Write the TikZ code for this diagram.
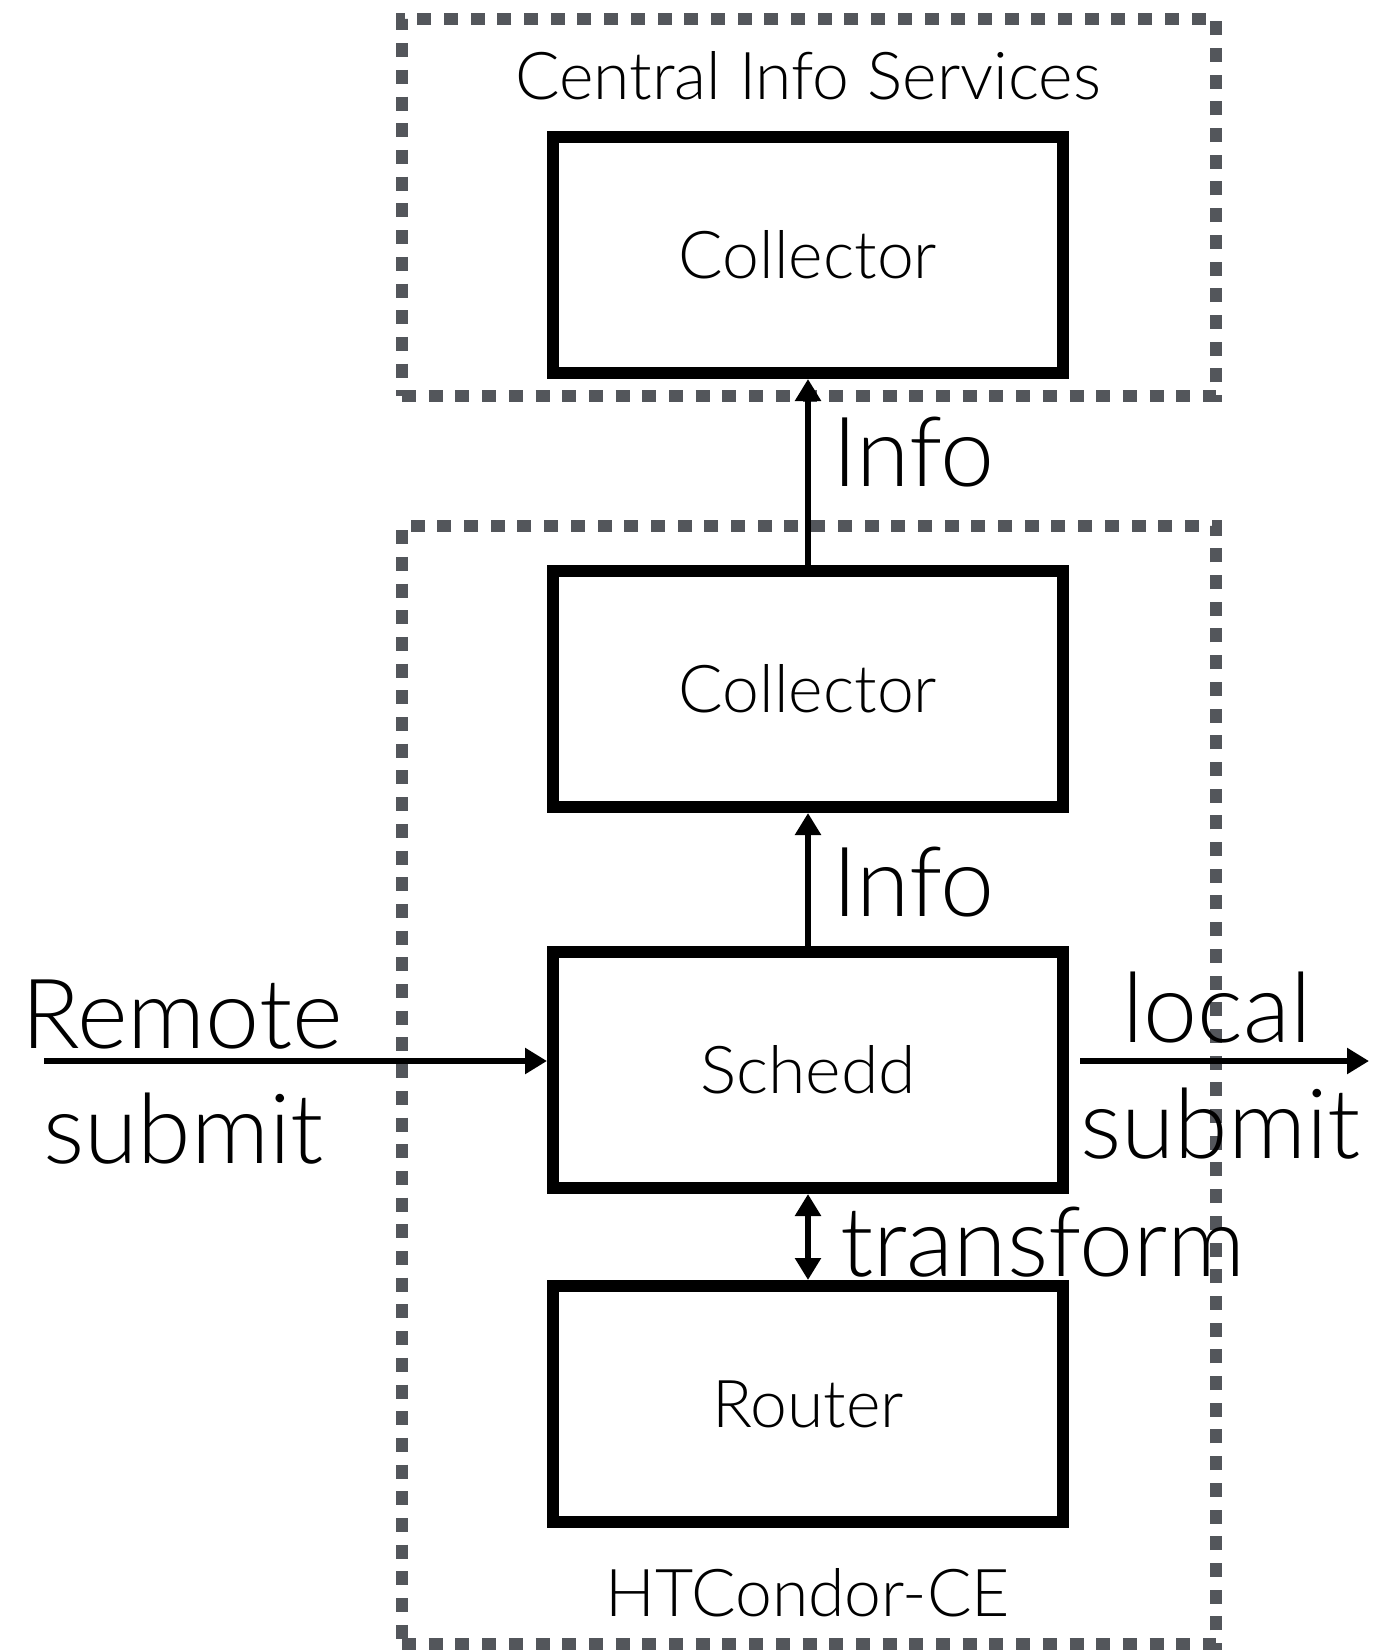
\documentclass[tikz,border=0pt]{standalone}
\usepackage{fontspec}
\setmainfont{Lato Light}
\usetikzlibrary{arrows.meta}
\definecolor{groupgray}{HTML}{53565B}
\tikzset{
  box/.style={draw=black, line width=12pt, minimum width=510pt, minimum height=236pt,
    font=\fontsize{66}{70}\selectfont, inner sep=0pt},
  group/.style={draw=groupgray, line width=12pt, dash pattern=on 14pt off 12.7pt,
    inner sep=0pt},
  flow/.style={line width=6pt, -{Triangle[length=22pt,width=25pt]}},
  biflow/.style={line width=6pt, {Triangle[length=22pt,width=25pt]}-{Triangle[length=22pt,width=25pt]}},
  biglabel/.style={font=\fontsize{97}{100}\selectfont, inner sep=0pt},
  grouplabel/.style={font=\fontsize{66}{70}\selectfont, inner sep=0pt, anchor=base},
}
\begin{document}
\begin{tikzpicture}[x=1pt, y=-1pt]
  \useasboundingbox (0,0) rectangle (1375,1651);

  % groups
  \node[group, minimum width=814pt, minimum height=377pt] (cis) at (809,207.5) {};
  \node[group, minimum width=814pt, minimum height=1118pt] (ce) at (809,1085) {};
  \node[grouplabel] (cislabel) at (808,100) {Central Info Services};
  \node[grouplabel] (celabel) at (808,1616) {HTCondor-CE};

  % daemons
  \node[box] (central) at (808,255) {Collector};
  \node[box] (collector) at (808,689) {Collector};
  \node[box] (schedd) at (808,1070) {\addfontfeatures{FakeStretch=1.03}Schedd};
  \node[box] (router) at (808,1404) {Router};

  % connectors
  \draw[flow] (collector.north) -- (central.south);
  \draw[flow] (schedd.north) -- (collector.south);
  \draw[biflow] (schedd.south) -- (router.north);

  \coordinate (remote) at (44,1061);
  \coordinate (local) at (1369,1061);
  \draw[flow] (remote) -- (schedd.west |- remote);
  \draw[flow] ([xshift=11pt]schedd.east |- local) -- (local);

  % labels
  \node[biglabel, anchor=base west] (info1) at (832,486) {Info};
  \node[biglabel, anchor=base west] (info2) at (832,916) {Info};
  \node[biglabel, anchor=base west] (xform) at (840,1276) {transform};
  \node[biglabel, anchor=base west] (rem1) at (21,1048) {Remote};
  \node[biglabel, anchor=base west] (rem2) at (43,1163) {submit};
  \node[biglabel, anchor=base west] (loc1) at (1122,1042) {local};
  \node[biglabel, anchor=base west] (loc2) at (1080,1158) {submit};
\end{tikzpicture}
\end{document}
